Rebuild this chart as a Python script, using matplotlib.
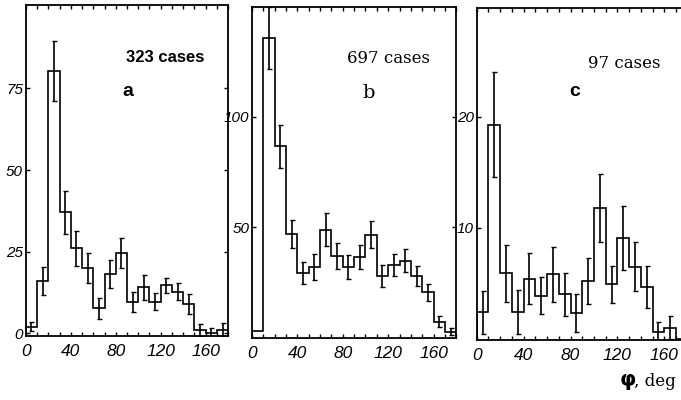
import numpy as np
import matplotlib.pyplot as plt

# bin edges in degrees (10 deg bins)
edges = np.arange(0, 190, 10)
centers = edges[:-1] + 5

# panel a: 323 cases
counts_a = [2, 16, 80.5, 37, 26, 20, 7.6, 18, 24.5, 9.6, 14, 9.6, 14.7, 12.6, 9, 1, 0, 1]
err_a = [1.3, 4.3, 9.2, 6.6, 5.4, 4.6, 3.3, 4.3, 4.5, 3.1, 3.8, 2.6, 2.3, 2.6, 3.1, 1.8, 1.5, 2.0]

# panel b: 697 cases
counts_b = [3, 135.5, 86.5, 47, 29.4, 32, 49, 37, 32, 36.6, 46.7, 28, 33, 35, 28, 20.7, 7.4, 2.9]
err_b = [0, 13.9, 9.8, 6.5, 5.1, 6.0, 7.4, 5.9, 5.5, 5.5, 6.0, 4.8, 5.0, 5.1, 4.3, 3.8, 2.6, 1.5]

# panel c: 97 cases (last bin cut off in the print)
counts_c = [2.4, 19.3, 5.9, 2.4, 5.4, 3.9, 5.8, 4.0, 2.3, 5.2, 11.8, 4.9, 9.1, 6.5, 4.7, 0.6, 1.0, 0]
err_c = [1.95, 4.7, 2.55, 2.0, 2.3, 1.65, 2.5, 1.9, 1.7, 2.05, 3.05, 1.7, 2.9, 2.2, 1.9, 0.9, 1.05, 0]

xticks = [0, 40, 80, 120, 160]
yticks_a = [0, 25, 50, 75]
yticks_b = [50, 100]
yticks_c = [10, 20]

tickfont = ['Liberation Sans', 'DejaVu Sans']
sansbold = dict(family='Liberation Sans', weight='bold')
serif = dict(family='DejaVu Serif')

fig = plt.figure(figsize=(6.81, 4.0), dpi=100)

panels = [
    # axes rect, counts, errs, yticks, ylim, n-label, letter, fonts, text positions
    ([0.038, 0.160, 0.297, 0.8275], counts_a, err_a, yticks_a, (-0.9, 100.6),
     '323 cases', 'a', sansbold, sansbold, (0.69, 0.84), (0.505, 0.74)),
    ([0.370, 0.155, 0.300, 0.8275], counts_b, err_b, yticks_b, (0.0, 149.5),
     '697 cases', 'b', serif, serif, (0.667, 0.843), (0.569, 0.74)),
    ([0.700, 0.150, 0.310, 0.830], counts_c, err_c, yticks_c, (-0.1, 29.8),
     '97 cases', 'c', serif, sansbold, (0.70, 0.834), (0.464, 0.747)),
]

for pos, cnt, err, yt, ylim, ntxt, letter, nfont, lfont, npos, lpos in panels:
    ax = fig.add_axes(pos)
    ax.stairs(cnt, edges, baseline=0, color='black', lw=1.2)
    cnt = np.array(cnt)
    err = np.array(err)
    m = err > 0
    ax.errorbar(centers[m], cnt[m], yerr=err[m], fmt='none', ecolor='black',
                elinewidth=1.2, capsize=1.8, capthick=1.0)
    ax.set_xlim(0, 180)
    ax.set_ylim(*ylim)
    ax.set_xticks(xticks)
    ax.set_xticks(np.arange(0, 181, 10), minor=True)
    ax.set_yticks(yt)
    ax.tick_params(which='both', direction='in', top=True, right=True,
                   length=3, width=1.0)
    ax.tick_params(axis='x', pad=6)
    ax.tick_params(axis='y', pad=2)
    ax.set_xticklabels([str(v) for v in xticks], fontsize=12.5, style='italic',
                       family=tickfont)
    ax.set_yticklabels([str(v) for v in yt], fontsize=11, style='italic',
                       family=tickfont)
    for s in ax.spines.values():
        s.set_linewidth(1.3)
    ax.text(*npos, ntxt, transform=ax.transAxes, fontsize=12, ha='center',
            va='center', **nfont)
    ax.text(*lpos, letter, transform=ax.transAxes, fontsize=14, ha='center',
            va='center', **lfont)

fig.text(0.921, 0.045, r'$\boldsymbol{\varphi}$', fontsize=15, ha='center', va='center')
fig.text(0.931, 0.045, ', deg', fontsize=12, ha='left', va='center', family='DejaVu Serif')

fig.savefig('out.png', dpi=100)
